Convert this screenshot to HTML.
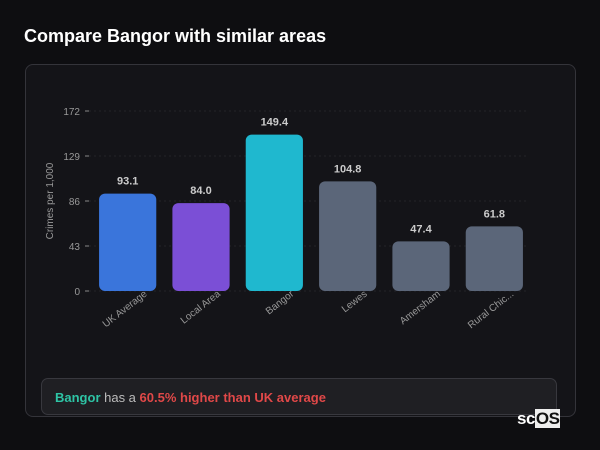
<!DOCTYPE html>
<html><head><meta charset="utf-8"><style>
html,body{margin:0;padding:0;width:600px;height:450px;background:#0e0e11;overflow:hidden;font-family:"Liberation Sans","DejaVu Sans",sans-serif;}
#title{position:absolute;left:24px;top:26px;font-size:18px;font-weight:bold;color:#fff;}
#card{position:absolute;left:25px;top:64px;width:549px;height:351px;border:1px solid #34343a;border-radius:8px;background:#141418;}
#info{position:absolute;left:41px;top:378px;width:516px;height:37px;border:1px solid #38383e;border-radius:7px;background:#1f1f23;font-size:13px;line-height:37px;box-sizing:border-box;padding-left:13px;color:#bbb;}
#logo{position:absolute;left:517px;top:409px;font-size:17px;font-weight:bold;color:#fff;letter-spacing:-0.5px}
#logo span{background:#eee;color:#111;padding:0 1px}
svg{position:absolute;left:0;top:0}
</style></head><body>
<div id="title">Compare Bangor with similar areas</div>
<div id="card"></div>
<svg id="chart" width="600" height="450"></svg>
<div id="info"><b style="color:#2ec4a5">Bangor</b> has a <b style="color:#e04848">60.5% higher than UK average</b></div>
<div id="logo">sc<span>OS</span></div>
<script>
const categories=["UK Average","Local Area","Bangor","Lewes","Amersham","Rural Chic..."];
const values=[93.1,84.0,149.4,104.8,47.4,61.8];
const colors=["#3a75db","#7b4fd6","#1fb8cf","#5b6679","#5b6679","#5b6679"];
const ticks=[0,43,86,129,172];
const NS="http://www.w3.org/2000/svg";
const svg=document.getElementById('chart');
const x0=91,x1=531,y0=291,y1=111,maxV=172;
const step=(x1-x0)/categories.length,bw=step*0.78;
const y=v=>y0-(v/maxV)*(y0-y1);
const xb=i=>x0+i*step+(step-bw)/2;
function mk(t,a){const e=document.createElementNS(NS,t);for(const k in a)e.setAttribute(k,a[k]);svg.appendChild(e);return e;}
ticks.forEach(t=>{
  const g=mk('line',{x1:x0-2,x2:x1-2,y1:y(t),y2:y(t),stroke:'#232328','stroke-dasharray':'2,3'});
  
  
  const tk=mk('line',{x1:x0-6,x2:x0-2,y1:y(t),y2:y(t),stroke:'#888'});
  
  
  const l=mk('text',{x:x0-11,y:y(t)+4,'text-anchor':'end','font-size':'10',fill:'#999'});
  l.textContent=t;
  
  
});
const yt=mk('text',{x:53,y:201,'text-anchor':'middle','font-size':'10',fill:'#999',transform:'rotate(-90 53 201)'});
yt.textContent='Crimes per 1,000';


categories.forEach((c,i)=>{
  const b=mk('rect',{x:xb(i),y:y(values[i]),width:bw,height:y0-y(values[i]),rx:6,fill:colors[i]});
  
  
  const v=mk('text',{x:xb(i)+bw/2,y:y(values[i])-9,'text-anchor':'middle','font-size':'11','font-weight':'bold',fill:'#ccc'});
  v.textContent=values[i].toFixed(1);
  
  
  const cx=xb(i)+bw/2+20,cy=y0+4;
  const l=mk('text',{x:cx,y:cy,'text-anchor':'end','font-size':'10',fill:'#999',transform:`rotate(-38 ${cx} ${cy})`});
  l.textContent=c;
  
  
});
</script>
</body></html>
